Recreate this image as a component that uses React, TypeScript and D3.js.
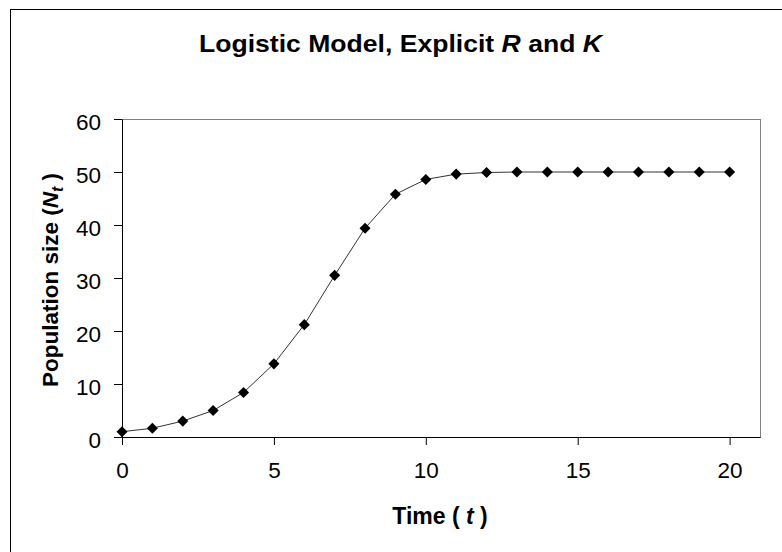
import * as d3 from "d3";
import { useRef, useEffect } from "react";

const times = [0, 1, 2, 3, 4, 5, 6, 7, 8, 9, 10, 11, 12, 13, 14, 15, 16, 17, 18, 19, 20];
const popSize = [1, 1.65, 3.0, 5.0, 8.4, 13.8, 21.2, 30.5, 39.4, 45.8, 48.6, 49.6, 49.9, 50, 50, 50, 50, 50, 50, 50, 50];
const xTicks = [0, 5, 10, 15, 20];
const yTicks = [0, 10, 20, 30, 40, 50, 60];

const FONT = "Arial, 'Liberation Sans', sans-serif";

export default function App() {
  const width = 782;
  const height = 552;
  const marginLeft = 122;
  const marginRight = 22;
  const marginTop = 119;
  const marginBottom = 115;

  const gx = useRef<SVGGElement>(null);
  const gy = useRef<SVGGElement>(null);

  const x = d3.scaleLinear().domain([0, 21]).range([marginLeft, width - marginRight]);
  const y = d3.scaleLinear().domain([0, 60]).range([height - marginBottom, marginTop]);

  const points = times.map((t, i) => [t, popSize[i]] as [number, number]);
  const line = d3
    .line<[number, number]>()
    .x((d) => x(d[0]))
    .y((d) => y(d[1]));
  const diamond = d3.symbol(d3.symbolDiamond2, 78)();

  useEffect(() => {
    if (gx.current) {
      const g = d3.select(gx.current);
      g.selectAll("*").remove();
      g.call(d3.axisBottom(x).tickValues(xTicks).tickSize(8).tickSizeOuter(0).tickPadding(17));
      g.attr("font-family", FONT).attr("font-size", 22.5);
      g.select(".domain").attr("stroke", "#000");
      g.selectAll("text").attr("fill", "#000");
    }
  }, [x]);

  useEffect(() => {
    if (gy.current) {
      const g = d3.select(gy.current);
      g.selectAll("*").remove();
      g.call(d3.axisLeft(y).tickValues(yTicks).tickSize(8).tickSizeOuter(0).tickPadding(13));
      g.attr("font-family", FONT).attr("font-size", 22.5);
      g.selectAll("text").attr("dy", "0.45em").attr("fill", "#000");
    }
  }, [y]);

  const plotW = width - marginLeft - marginRight;
  const plotH = height - marginTop - marginBottom;

  return (
    <svg
      width={width}
      height={height}
      style={{ position: "absolute", left: 0, top: 0, background: "#fff" }}
      fontFamily={FONT}
    >
      <rect x={10.5} y={9.5} width={800} height={600} fill="#fff" stroke="#000" strokeWidth={1} />
      <text
        x={400.5}
        y={52}
        textAnchor="middle"
        fontSize={24}
        fontWeight="bold"
        textLength={403}
        lengthAdjust="spacingAndGlyphs"
      >
        Logistic Model, Explicit <tspan fontStyle="italic">R</tspan> and{" "}
        <tspan fontStyle="italic">K</tspan>
      </text>
      <rect
        x={marginLeft + 0.5}
        y={marginTop + 0.5}
        width={plotW}
        height={plotH}
        fill="none"
        stroke="#808080"
        strokeWidth={1}
      />
      <g ref={gx} transform={`translate(0,${height - marginBottom})`} />
      <g ref={gy} transform={`translate(${marginLeft},0)`} />
      <path d={line(points) ?? ""} fill="none" stroke="#333" strokeWidth={1} />
      {points.map((d, i) => (
        <path key={i} d={diamond ?? ""} transform={`translate(${x(d[0])},${y(d[1])})`} fill="#000" />
      ))}
      <text x={440} y={524} textAnchor="middle" fontSize={23} fontWeight="bold">
        Time ( <tspan fontStyle="italic">t</tspan> )
      </text>
      <text
        transform={`translate(58,${(marginTop + height - marginBottom) / 2 + 2}) rotate(-90)`}
        textAnchor="middle"
        fontSize={22.5}
        fontWeight="bold"
      >
        Population size (<tspan fontStyle="italic">N</tspan>
        <tspan fontStyle="italic" fontSize={16} dy={5}>t</tspan>
        <tspan dy={-5}> )</tspan>
      </text>
    </svg>
  );
}
